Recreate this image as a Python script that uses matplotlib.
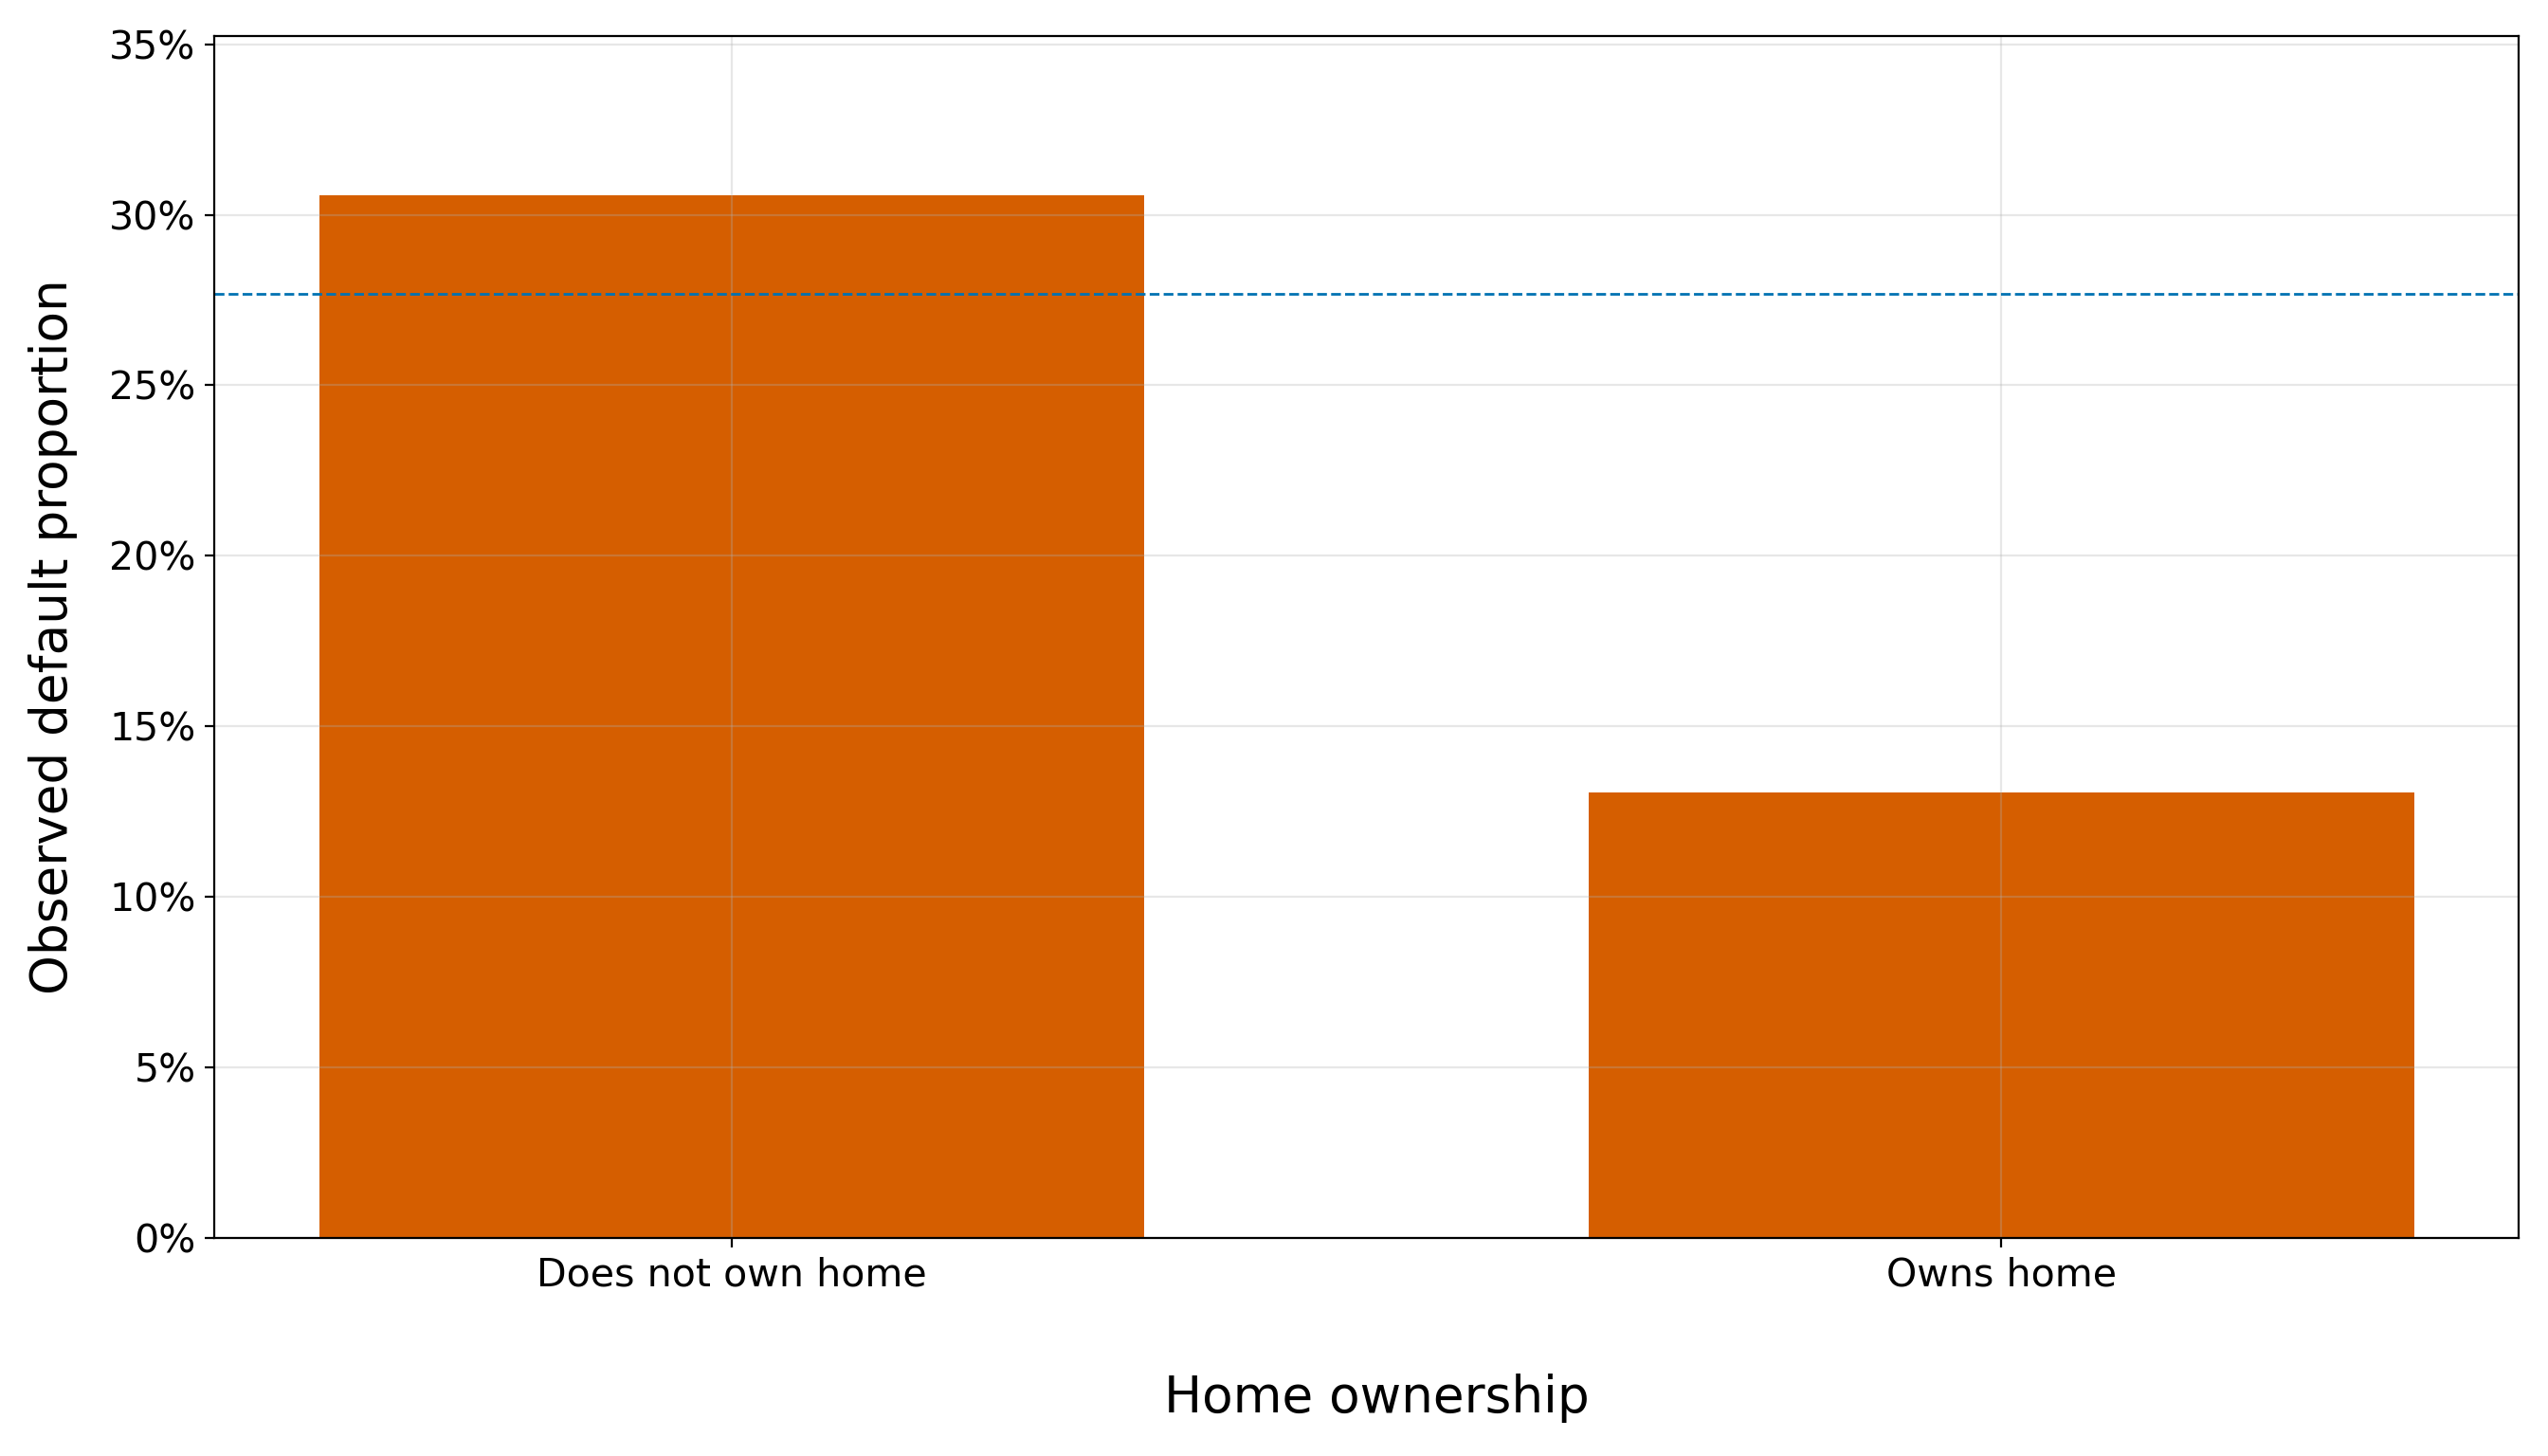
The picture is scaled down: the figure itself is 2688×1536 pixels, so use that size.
import numpy as np
import matplotlib
matplotlib.use("Agg")
import matplotlib.pyplot as plt
from matplotlib.ticker import PercentFormatter

# values
categories = ["Does not own home", "Owns home"]
default_rate = [0.3057, 0.1305]
overall_rate = 0.2767

fig, ax = plt.subplots(figsize=(13.44, 7.68), dpi=200)
fig.subplots_adjust(left=0.0841, right=0.9885, top=0.9753, bottom=0.1497)

x = np.arange(len(categories))
ax.bar(x, default_rate, width=0.65, color="#D55E00")
ax.axhline(overall_rate, color="#0072B2", linestyle="--", linewidth=1)

ax.set_xticks(x)
ax.set_xticklabels(categories)
ax.set_ylim(0, 0.3524)
ax.yaxis.set_major_formatter(PercentFormatter(1.0, decimals=0))
ax.tick_params(labelsize=14.8)
ax.grid(True, alpha=0.3)

ax.set_xlabel("Home ownership", fontsize=19.2, labelpad=30, x=0.5045)
ax.set_ylabel("Observed default proportion", fontsize=19.2, labelpad=12)

fig.savefig("out.png", dpi=200)
